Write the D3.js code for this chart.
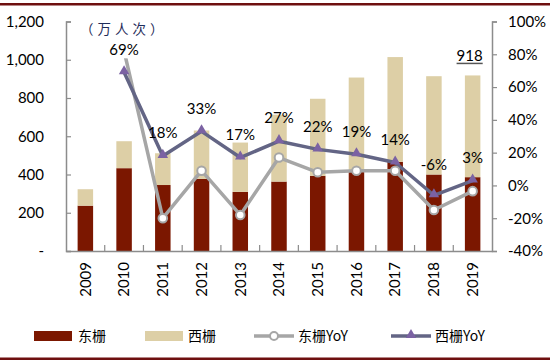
<!doctype html>
<html>
<head>
<meta charset="utf-8">
<script src="https://d3js.org/d3.v7.min.js"></script>
<style>
  body { margin: 0; background: #fff; }
  svg { display: block; font-family: Lato, "Noto Sans", sans-serif; }
</style>
</head>
<body>
<svg width="550" height="362"></svg>
<script>
// data (unit: 万人次, %)
var years    = ["2009","2010","2011","2012","2013","2014","2015","2016","2017","2018","2019"];
var east     = [237, 433, 345, 377, 309, 363, 393, 415, 466, 400, 386];
var west     = [86, 141, 166, 253, 258, 350, 403, 492, 548, 514, 532];
var eastYoY  = [null, 82, -20, 9, -18, 17, 8, 9, 9, -15, -3.5];
var westYoY  = [null, 69, 18, 33, 17, 27, 22, 19, 14, -6, 3];
var leftTicks  = [0, 200, 400, 600, 800, 1000, 1200];
var rightTicks = [-40, -20, 0, 20, 40, 60, 80, 100];

var cRed = "#7b1700", cTan = "#ddcfa6", cGray = "#a6a6a6", cPurple = "#636585", cTri = "#7b62a3", cAxis = "#8c8c8c";

var svg = d3.select("svg");
var pL = 66, pR = 492, pT = 21.5, pB = 251;

var x = d3.scaleBand().domain(years).range([pL, pR]).paddingInner(0.6).paddingOuter(0.3);
var y = d3.scaleLinear().domain([0, 1200]).range([pB, pT]);
var y2 = d3.scaleLinear().domain([-40, 100]).range([pB, pT]);

// frame lines top / bottom
svg.append("rect").attr("x", 0).attr("y", 3).attr("width", 550).attr("height", 2.5).attr("fill", "#6e0f0f");
svg.append("rect").attr("x", 0).attr("y", 357.5).attr("width", 550).attr("height", 2.5).attr("fill", "#6e0f0f");

// bars
var data = years.map(function(d, i) { return { year: d, east: east[i], west: west[i] }; });
var g = svg.append("g");
g.selectAll(".e").data(data).enter().append("rect")
  .attr("x", function(d) { return x(d.year); })
  .attr("width", x.bandwidth())
  .attr("y", function(d) { return y(d.east); })
  .attr("height", function(d) { return y(0) - y(d.east); })
  .attr("fill", cRed);
g.selectAll(".w").data(data).enter().append("rect")
  .attr("x", function(d) { return x(d.year); })
  .attr("width", x.bandwidth())
  .attr("y", function(d) { return y(d.east + d.west); })
  .attr("height", function(d) { return y(d.east) - y(d.east + d.west); })
  .attr("fill", cTan);

// axes
var yl = d3.axisLeft(y).tickValues(leftTicks).tickSize(-5).tickPadding(22)
  .tickFormat(function(d) { return d === 0 ? "-" : d3.format(",")(d); });
var ylg = svg.append("g").attr("transform", "translate(" + pL + ",0)").call(yl);
var yr = d3.axisRight(y2).tickValues(rightTicks).tickSize(5).tickPadding(11)
  .tickFormat(function(d) { return d + "%"; });
var yrg = svg.append("g").attr("transform", "translate(" + pR + ",0)").call(yr);
var xg = svg.append("g").attr("transform", "translate(0," + pB + ")").call(d3.axisBottom(x).tickSize(0).tickPadding(12));
[ylg, yrg, xg].forEach(function(a) {
  a.select(".domain").attr("stroke", cAxis).attr("stroke-width", 1.5);
  a.selectAll(".tick line").attr("stroke", cAxis).attr("stroke-width", 1.2);
  a.selectAll("text").attr("font-size", 15).attr("fill", "#000").attr("font-family", "Lato, sans-serif");
});
ylg.selectAll(".tick text").attr("text-anchor", "end");
xg.selectAll(".tick text")
  .attr("transform", "rotate(-90)")
  .attr("text-anchor", "end")
  .attr("x", -11).attr("y", 0).attr("dy", "0.35em");
// x ticks between categories
xg.selectAll(".sep").data(years.slice(1)).enter().append("line")
  .attr("x1", function(d) { return x(d) - x.step() * x.paddingInner() / 2; })
  .attr("x2", function(d) { return x(d) - x.step() * x.paddingInner() / 2; })
  .attr("y1", 0).attr("y2", -6).attr("stroke", cAxis).attr("stroke-width", 1.2);

// YoY lines
var cx = function(i) { return x(years[i]) + x.bandwidth() / 2; };
var line = function(scale) {
  return d3.line().defined(function(d) { return d != null; })
    .x(function(d, i) { return cx(i); }).y(function(d) { return scale(d); });
};
svg.append("path").datum(eastYoY).attr("d", line(y2)).attr("fill", "none")
  .attr("stroke", cGray).attr("stroke-width", 3.5).attr("stroke-linejoin", "round");
svg.append("path").datum(westYoY).attr("d", line(y2)).attr("fill", "none")
  .attr("stroke", cPurple).attr("stroke-width", 3.5).attr("stroke-linejoin", "round");

eastYoY.forEach(function(d, i) {
  if (d == null) return;
  svg.append("circle").attr("cx", cx(i)).attr("cy", y2(d))
    .attr("r", 4.3).attr("fill", "#fff").attr("stroke", cGray).attr("stroke-width", 2);
});

var tri = d3.symbol().type(d3.symbolTriangle).size(48);
westYoY.forEach(function(d, i) {
  if (d == null) return;
  svg.append("path").attr("d", tri).attr("fill", cTri)
    .attr("transform", "translate(" + cx(i) + "," + (y2(d) - 1) + ")");
});

// data labels for 西栅YoY
westYoY.forEach(function(d, i) {
  if (d == null) return;
  var lx = cx(i), ly = y2(d) - (d < 0 ? 31 : 23);
  if (i === 1) {
    svg.append("rect").attr("x", lx - 18).attr("y", ly - 9).attr("width", 36).attr("height", 18).attr("fill", "#fff");
  }
  svg.append("text").attr("x", lx).attr("y", ly).attr("dy", "0.35em")
    .attr("text-anchor", "middle").attr("font-size", 15).text(d + "%");
});

// total label on last bar
var last = data[data.length - 1];
var tot = last.east + last.west;
var tl = svg.append("text").attr("x", cx(data.length - 1) - 3).attr("y", y(tot) - 20).attr("dy", "0.35em")
  .attr("text-anchor", "middle").attr("font-size", 15).text(tot);
var bb = tl.node().getBBox();
svg.append("line").attr("x1", bb.x).attr("x2", bb.x + bb.width).attr("y1", y(tot) - 12).attr("y2", y(tot) - 12)
  .attr("stroke", "#555").attr("stroke-width", 1.5);

// unit
svg.append("text").attr("x", 80).attr("y", 29).attr("dy", "0.35em")
  .attr("font-family", "'Noto Sans CJK SC', sans-serif").attr("font-size", 13.5)
  .attr("letter-spacing", 4).attr("fill", "#1f2d5a").text("（万人次）");

// legend
var lg = svg.append("g").attr("font-family", "'Noto Sans CJK SC', sans-serif").attr("font-size", 14);
var ly0 = 336;
lg.append("rect").attr("x", 34).attr("y", ly0 - 5).attr("width", 38).attr("height", 10).attr("fill", cRed);
lg.append("text").attr("x", 78).attr("y", ly0).attr("dy", "0.35em").text("东栅");
lg.append("rect").attr("x", 145).attr("y", ly0 - 5).attr("width", 38).attr("height", 10).attr("fill", cTan);
lg.append("text").attr("x", 188).attr("y", ly0).attr("dy", "0.35em").text("西栅");
lg.append("line").attr("x1", 254).attr("x2", 294).attr("y1", ly0).attr("y2", ly0).attr("stroke", cGray).attr("stroke-width", 3.5);
lg.append("circle").attr("cx", 274).attr("cy", ly0).attr("r", 4).attr("fill", "#fff").attr("stroke", cGray).attr("stroke-width", 2);
lg.append("text").attr("x", 298).attr("y", ly0).attr("dy", "0.35em").text("东栅YoY");
lg.append("line").attr("x1", 391).attr("x2", 431).attr("y1", ly0).attr("y2", ly0).attr("stroke", cPurple).attr("stroke-width", 3.5);
lg.append("path").attr("d", tri).attr("fill", cTri).attr("transform", "translate(411," + (ly0 - 1) + ")");
lg.append("text").attr("x", 435).attr("y", ly0).attr("dy", "0.35em").text("西栅YoY");
</script>
</body>
</html>
